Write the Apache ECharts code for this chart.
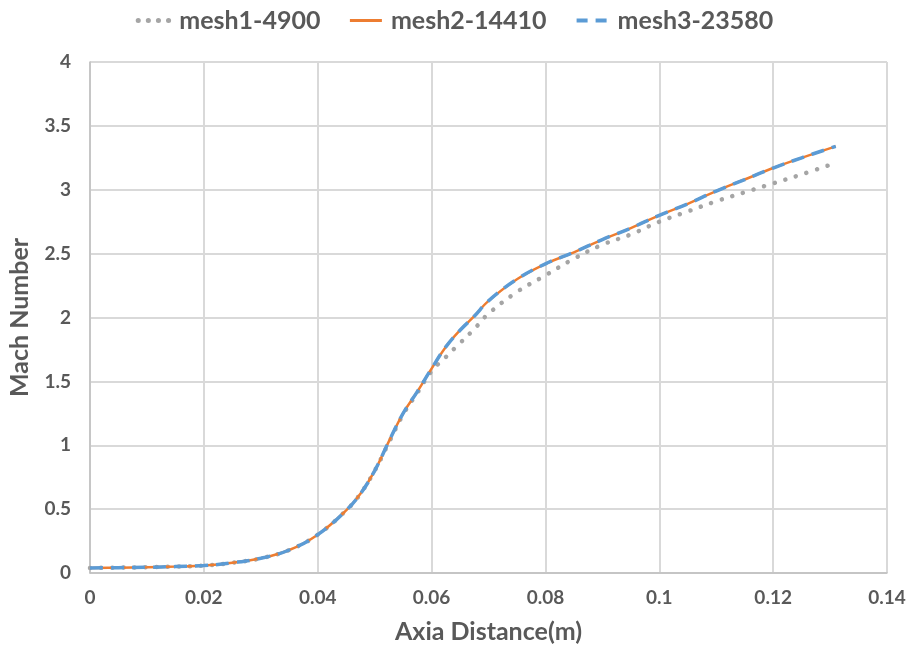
<!DOCTYPE html>
<html><head><meta charset="utf-8">
<script src="https://cdn.jsdelivr.net/npm/echarts@6/dist/echarts.min.js"></script>
<style>html,body{margin:0;padding:0;background:#fff}#c{width:909px;height:650px}</style>
</head><body><div id="c"></div>
<script>
// Axial distance (m)
var xValues = [0,0.005,0.01,0.015,0.02,0.025,0.03,0.035,0.04,0.045,0.0475,0.05,0.0525,0.055,0.0575,0.06,0.0625,0.065,0.0675,0.07,0.075,0.08,0.085,0.09,0.095,0.1,0.105,0.11,0.115,0.12,0.125,0.131];
var mesh1 = [0.04,0.042,0.045,0.05,0.058,0.08,0.115,0.18,0.30,0.49,0.62,0.80,1.02,1.24,1.41,1.58,1.69,1.80,1.91,2.03,2.20,2.33,2.46,2.57,2.65,2.75,2.83,2.91,2.98,3.05,3.12,3.21];
var mesh2 = [0.04,0.042,0.045,0.05,0.058,0.08,0.115,0.18,0.30,0.49,0.62,0.80,1.03,1.25,1.42,1.60,1.77,1.90,2.01,2.13,2.30,2.42,2.51,2.61,2.70,2.80,2.89,2.99,3.08,3.17,3.25,3.34];
var mesh3 = [0.04,0.042,0.045,0.05,0.058,0.08,0.115,0.18,0.30,0.49,0.62,0.80,1.03,1.25,1.42,1.60,1.77,1.90,2.01,2.13,2.30,2.42,2.51,2.61,2.70,2.80,2.89,2.99,3.08,3.17,3.25,3.34];
var seriesNames = ['mesh1-4900','mesh2-14410','mesh3-23580'];

function pairs(ys){ return xValues.map(function(x,i){ return [x, ys[i]]; }); }
var FONT = 'Lato';
var chart = echarts.init(document.getElementById('c'), null, {renderer:'canvas'});
chart.setOption({
  animation:false,
  backgroundColor:'#fff',
  legend:{
    top:3, left:'center',
    itemWidth:32, itemHeight:6, itemGap:28,
    itemStyle:{opacity:0},
    textStyle:{fontFamily:FONT, fontWeight:'bold', fontSize:25, color:'#595959', padding:[0,0,0,4]},
    data:[
      {name:seriesNames[0], lineStyle:{width:5, type:[0.1,10], cap:'round', color:'#A5A5A5'}},
      {name:seriesNames[1], lineStyle:{width:3, color:'#ED7D31'}},
      {name:seriesNames[2], lineStyle:{width:4, type:[11,8], color:'#5B9BD5'}}
    ]
  },
  grid:{left:90, right:22, top:62, bottom:77, outerBoundsMode:'none', containLabel:false},
  xAxis:{
    type:'value', min:0, max:0.14, interval:0.02,
    name:'Axia Distance(m)', nameLocation:'middle', nameGap:46,
    nameTextStyle:{fontFamily:FONT, fontWeight:'bold', fontSize:25, color:'#595959'},
    axisLine:{show:true, lineStyle:{color:'#BFBFBF', width:1.5}},
    axisTick:{show:false},
    axisLabel:{fontFamily:FONT, fontWeight:'bold', fontSize:19, color:'#595959', margin:15},
    splitLine:{show:true, lineStyle:{color:'#D9D9D9', width:2}}
  },
  yAxis:{
    type:'value', min:0, max:4, interval:0.5,
    name:'Mach Number', nameLocation:'middle', nameGap:58, nameRotate:90,
    nameTextStyle:{fontFamily:FONT, fontWeight:'bold', fontSize:25, color:'#595959'},
    axisLine:{show:true, lineStyle:{color:'#BFBFBF', width:1.5}},
    axisTick:{show:false},
    axisLabel:{fontFamily:FONT, fontWeight:'bold', fontSize:19, color:'#595959', margin:19},
    splitLine:{show:true, lineStyle:{color:'#D9D9D9', width:2}}
  },
  series:[
    {name:seriesNames[0], type:'line', data:pairs(mesh1), smooth:0.4, showSymbol:false, symbol:'none',
     itemStyle:{color:'#A5A5A5'},
     lineStyle:{color:'#A5A5A5', width:4.5, type:[0.1,11], cap:'round'}, z:2},
    {name:seriesNames[1], type:'line', data:pairs(mesh2), smooth:0.4, showSymbol:false, symbol:'none',
     itemStyle:{color:'#ED7D31'},
     lineStyle:{color:'#ED7D31', width:2.5, type:'solid'}, z:3},
    {name:seriesNames[2], type:'line', data:pairs(mesh3), smooth:0.4, showSymbol:false, symbol:'none',
     itemStyle:{color:'#5B9BD5'},
     lineStyle:{color:'#5B9BD5', width:3.5, type:[13,8]}, z:4}
  ]
});
</script></body></html>
